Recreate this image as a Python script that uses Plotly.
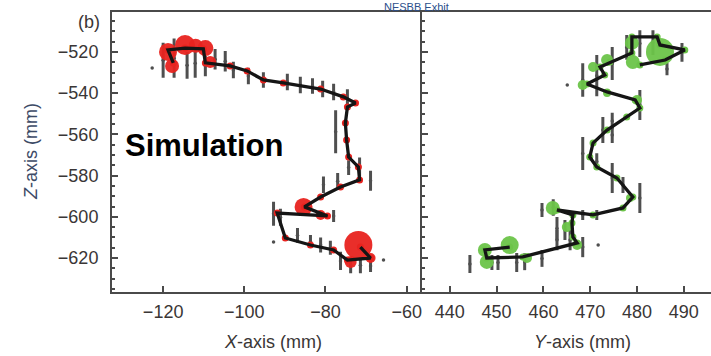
import plotly.graph_objects as go

# ---------------- data (mm) ----------------
# Left panel: X vs Z trajectory
left_path_x = [-117.5, -118.8, -114.6, -110.1, -109.6, -103.5, -99.3, -95.3, -90.4, -81.2,
               -75.6, -72.6, -74.6, -75.1, -74.8, -74.3, -71.9, -71.6, -76.3, -81.2,
               -85.2, -79.5, -91.9, -89.9, -83.7, -78.0, -74.6, -68.9, -71.4]
left_path_z = [-525.3, -519.0, -518.1, -518.5, -525.3, -526.8, -529.2, -533.6, -535.0, -538.0,
               -541.8, -544.8, -546.7, -554.5, -562.7, -571.0, -575.8, -582.1, -585.5, -590.4,
               -595.2, -599.6, -598.2, -610.3, -613.7, -616.1, -621.0, -620.0, -614.7]

# Left panel: measured points with vertical error (half length, mm)
left_meas_x = [-120.0, -117.3, -114.1, -112.1, -109.6, -107.2, -104.7,
               -102.7, -99.0, -95.3, -89.4, -86.2, -83.2, -80.7, -78.0, -74.6,
               -77.5, -71.6, -74.3, -68.9, -80.5, -77.0,
               -92.8, -91.1, -78.0, -86.9, -83.7, -81.2, -78.8, -76.3, -73.8, -71.4, -68.9,
               -122.7, -92.8, -65.7]
left_meas_z = [-524.0, -523.0, -526.5, -525.5, -526.8, -523.5, -524.5,
               -528.7, -531.7, -533.6, -534.6, -536.0, -536.5, -538.0, -539.4, -542.3,
               -558.7, -575.8, -576.1, -582.5, -584.5, -582.8,
               -598.5, -600.2, -599.6, -609.0, -612.0, -613.7, -615.0, -621.4, -623.5, -623.5, -623.9,
               -527.8, -612.2, -621.0]
left_meas_err = [8.5, 9.5, 6.5, 7.0, 5.0, 5.0, 5.0,
                 4.0, 4.0, 3.8, 4.0, 4.0, 3.8, 4.0, 4.0, 4.2,
                 10.4, 4.6, 3.6, 4.9, 4.0, 4.0,
                 5.8, 4.1, 2.9, 3.6, 3.2, 3.6, 3.4, 4.4, 3.9, 3.9, 2.9,
                 0.0, 0.0, 0.0]

# Left panel: red deposits (relative intensity)
left_red_x = [-118.8, -114.6, -109.6, -117.8, -108.4, -112.0, -85.4, -81.2, -71.9, -73.8, -68.9]
left_red_z = [-520.0, -516.6, -518.1, -526.8, -524.9, -517.0, -595.2, -599.1, -613.7, -621.9, -620.0]
left_red_w = [18, 20, 16, 14, 12, 14, 18, 10, 28, 12, 10]

# Right panel: Y vs Z trajectory
right_path_y = [480.6, 486.0, 490.2, 484.9, 484.3, 478.9, 478.9, 474.2, 472.1, 473.1,
                469.3, 473.6, 479.6, 480.6, 477.8, 473.6, 470.6, 469.9, 471.4, 475.7,
                479.1, 477.0, 470.6, 462.9, 466.3, 466.1, 466.3, 467.2, 455.6, 447.9,
                447.5, 452.8]
right_path_z = [-526.3, -523.9, -519.0, -516.6, -512.7, -512.7, -520.5, -524.9, -527.3, -531.2,
                -535.5, -539.4, -543.3, -547.2, -551.6, -557.9, -564.2, -571.0, -575.8, -581.2,
                -590.4, -595.7, -599.1, -596.7, -599.1, -603.0, -609.8, -612.7, -619.5, -620.0,
                -616.1, -614.7]

right_meas_y = [468.4, 471.4, 474.7, 477.8, 480.6, 483.4, 486.4, 489.6,
                480.6, 472.7, 474.7, 468.4, 471.4, 474.7, 474.7, 477.0, 480.6,
                459.7, 462.1, 468.4, 471.4, 462.9, 464.6,
                444.3, 449.0, 450.3, 454.3, 456.0, 459.7, 462.9, 465.7, 468.4,
                471.7, 465.1]
right_meas_z = [-533.6, -531.5, -525.6, -517.8, -515.9, -515.5, -528.3, -520.2,
                -545.7, -557.9, -553.5, -569.3, -573.2, -560.3, -581.2, -584.6, -590.9,
                -596.7, -595.5, -599.1, -599.1, -605.7, -606.4,
                -622.9, -622.2, -622.2, -622.2, -621.8, -620.2, -611.3, -611.3, -614.7,
                -613.7, -536.0]
right_meas_err = [8.1, 10.0, 8.0, 6.0, 6.5, 6.0, 3.0, 4.6,
                  7.3, 6.3, 4.0, 8.0, 4.0, 3.9, 7.3, 3.9, 7.3,
                  3.4, 4.0, 2.4, 2.4, 5.6, 4.9,
                  4.4, 3.6, 3.6, 4.6, 4.1, 4.1, 4.9, 4.9, 4.9,
                  0.0, 0.0]

right_green_y = [484.9, 478.9, 479.1, 473.6, 470.6, 468.4, 473.6, 480.0, 478.5, 462.0,
                 465.0, 452.8, 447.5, 447.9, 456.5, 467.2]
right_green_z = [-520.0, -515.6, -524.9, -523.9, -527.3, -536.0, -539.9, -543.3, -590.9, -595.7,
                 -605.0, -613.7, -616.1, -621.9, -620.0, -613.7]
right_green_w = [28, 14, 14, 12, 10, 10, 8, 10, 8, 14, 10, 18, 14, 14, 10, 10]

z_ticks = [-620, -600, -580, -560, -540, -520]
x_ticks = [-120, -100, -80, -60]
y_ticks = [440, 450, 460, 470, 480, 490]

# ---------------- styles ----------------
RED = "#e8231f"
GREEN = "#6cc449"
GRAY = "#4f4f4f"
AXC = "#4a4a4a"
TXT = "#3a3636"
FONT = "Liberation Sans, Arial, sans-serif"

fig = go.Figure()


def add_panel(xa, ya, mx, mz, me, bx, bz, bw, px, pz, col):
    fig.add_trace(go.Scatter(
        x=mx, y=mz, mode="markers", xaxis=xa, yaxis=ya,
        marker=dict(size=3.5, color=GRAY),
        error_y=dict(type="data", array=me, symmetric=True, color=GRAY,
                     thickness=3, width=0),
        hoverinfo="skip"))
    fig.add_trace(go.Scatter(
        x=bx, y=bz, mode="markers", xaxis=xa, yaxis=ya,
        marker=dict(size=bw, color=col, opacity=0.95, line=dict(width=0)),
        hoverinfo="skip"))
    fig.add_trace(go.Scatter(
        x=px, y=pz, mode="markers", xaxis=xa, yaxis=ya,
        marker=dict(size=7, color=col, line=dict(width=0)),
        hoverinfo="skip"))
    fig.add_trace(go.Scatter(
        x=px, y=pz, mode="lines", xaxis=xa, yaxis=ya,
        line=dict(color="#151515", width=3.3),
        hoverinfo="skip"))


add_panel("x", "y", left_meas_x, left_meas_z, left_meas_err,
          left_red_x, left_red_z, left_red_w, left_path_x, left_path_z, RED)
add_panel("x2", "y2", right_meas_y, right_meas_z, right_meas_err,
          right_green_y, right_green_z, right_green_w, right_path_y, right_path_z, GREEN)

split = 0.517
zrange = [-636.5, -500.6]

common_x = dict(showline=True, linecolor=AXC, linewidth=2, mirror=True,
                ticks="inside", ticklen=6, tickwidth=2, tickcolor=AXC,
                showgrid=False, zeroline=False,
                tickfont=dict(family=FONT, size=18, color=TXT),
                ticklabelstandoff=2)
common_y = dict(showline=True, linecolor=AXC, linewidth=2,
                ticks="inside", ticklen=6, tickwidth=2, tickcolor=AXC,
                showgrid=False, zeroline=False, range=zrange,
                tickvals=z_ticks,
                minor=dict(ticks="inside", ticklen=3, tickwidth=1.5, tickcolor=AXC,
                           dtick=5, tick0=-520, showgrid=False),
                tickfont=dict(family=FONT, size=18, color=TXT))

fig.update_layout(
    width=711, height=356,
    margin=dict(l=112, r=0, t=12, b=64),
    paper_bgcolor="white", plot_bgcolor="white",
    showlegend=False,
    xaxis=dict(domain=[0, split], range=[-132.6, -56.3], tickvals=x_ticks,
               anchor="y", **common_x),
    xaxis2=dict(domain=[split, 1], range=[434.0, 495.8], tickvals=y_ticks,
                anchor="y2", **common_x),
    yaxis=dict(anchor="x", ticklabelstandoff=8, **common_y),
    yaxis2=dict(anchor="x2", showticklabels=False, **common_y),
)

# text annotations
fig.add_annotation(text="<i>X</i>-axis (mm)", xref="paper", yref="paper",
                   x=(273 - 112) / 599, y=-(342 - 292) / 280, showarrow=False,
                   xanchor="center", yanchor="middle",
                   font=dict(family=FONT, size=18, color=TXT))
fig.add_annotation(text="<i>Y</i>-axis (mm)", xref="paper", yref="paper",
                   x=(582 - 112) / 599, y=-(342 - 292) / 280, showarrow=False,
                   xanchor="center", yanchor="middle",
                   font=dict(family=FONT, size=18, color=TXT))
fig.add_annotation(text="<i>Z</i>-axis (mm)", xref="paper", yref="paper",
                   x=-(112 - 31) / 599, y=0.5, showarrow=False, textangle=-90,
                   xanchor="center", yanchor="middle",
                   font=dict(family=FONT, size=18, color="#3c4a66"))
fig.add_annotation(text="(b)", xref="paper", yref="paper",
                   x=-(112 - 89) / 599, y=1 - (22 - 12) / 280, showarrow=False,
                   xanchor="center", yanchor="middle",
                   font=dict(family=FONT, size=18, color=TXT))
fig.add_annotation(text="<b>Simulation</b>", xref="paper", yref="paper",
                   x=(123 - 112) / 599, y=1 - (145 - 12) / 280, showarrow=False,
                   xanchor="left", yanchor="middle",
                   font=dict(family=FONT, size=31, color="black"))
fig.add_annotation(text="NESBB Exhit", xref="paper", yref="paper",
                   x=(416 - 112) / 599, y=1, showarrow=False,
                   xanchor="center", yanchor="bottom", yshift=-3,
                   font=dict(family=FONT, size=11, color="#2c4f8c"))

fig.write_html("out.html")
